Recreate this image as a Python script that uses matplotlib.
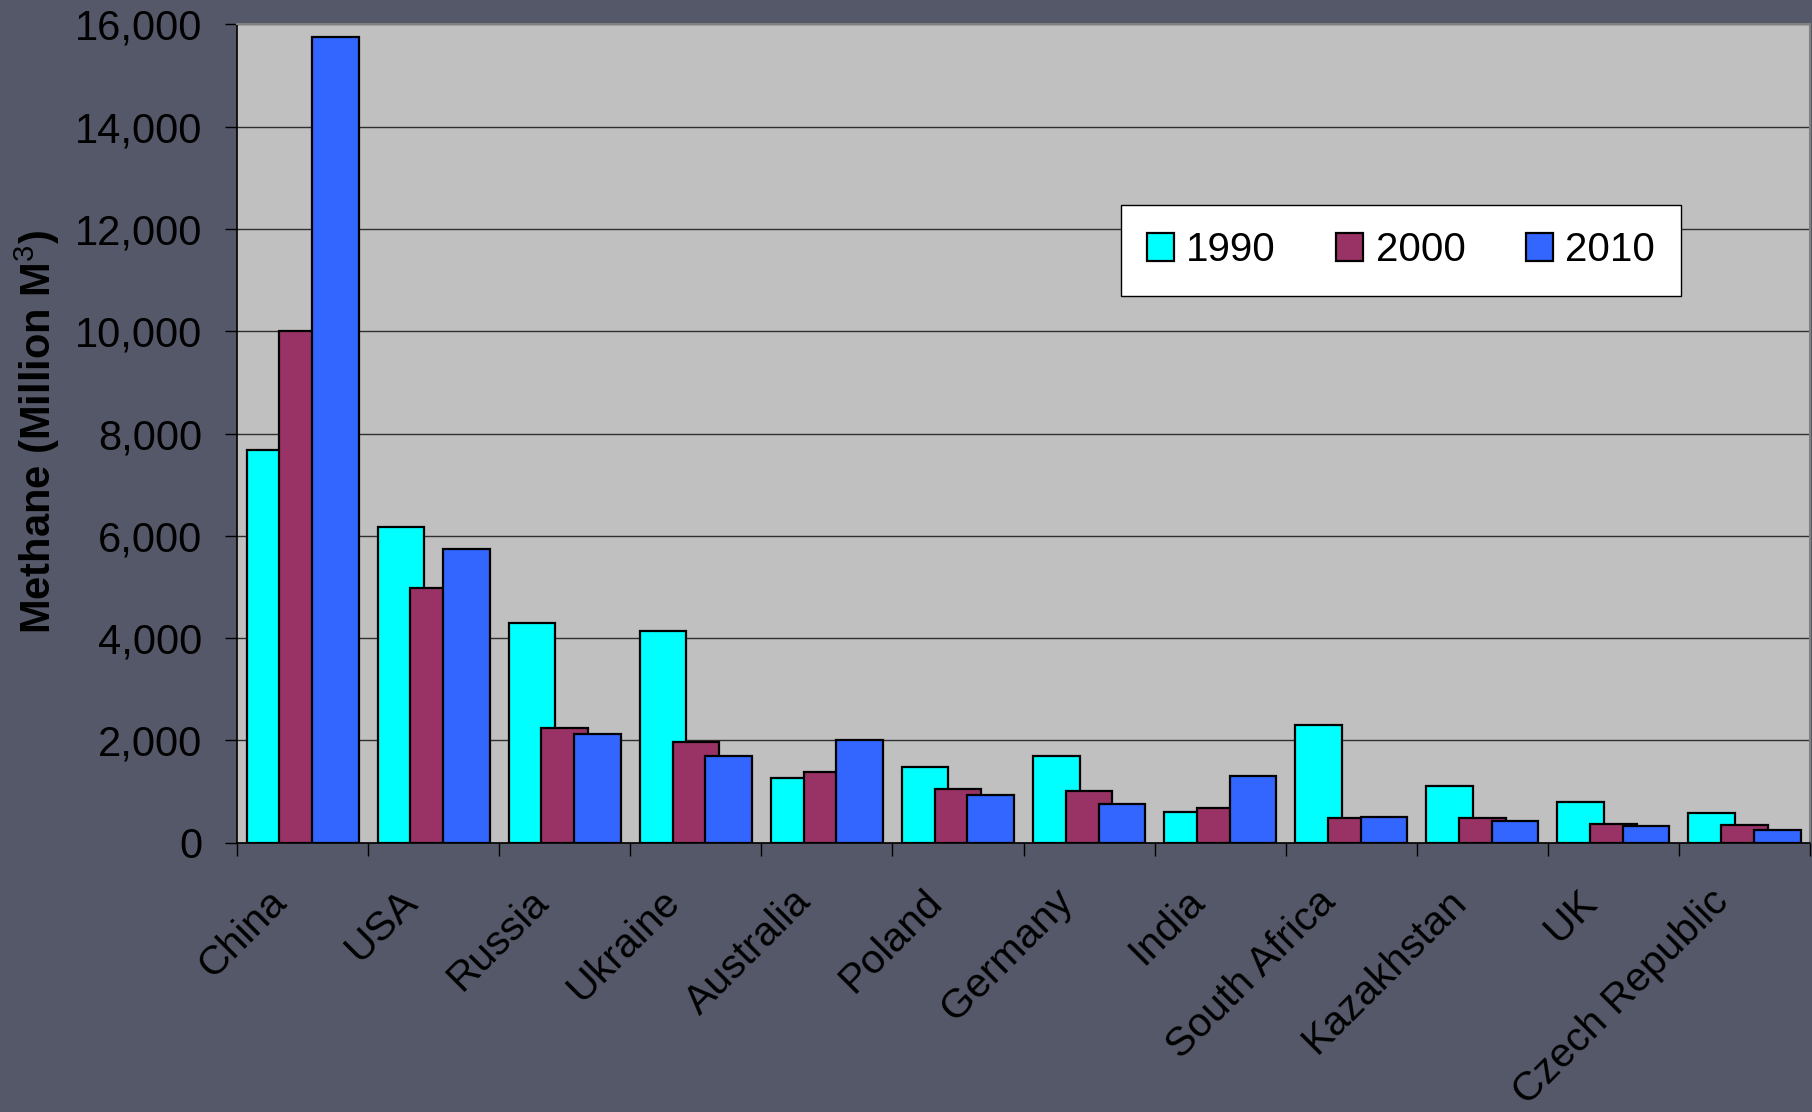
import matplotlib.pyplot as plt
import matplotlib.transforms as mtransforms
from matplotlib.ticker import FuncFormatter, MultipleLocator
import numpy as np

plt.rcParams['font.family'] = ['Liberation Sans', 'DejaVu Sans']
plt.rcParams['mathtext.fontset'] = 'custom'
plt.rcParams['mathtext.rm'] = 'Liberation Sans'
plt.rcParams['mathtext.bf'] = 'Liberation Sans:bold'

#%% data (million m3 of methane)
countries = ["China", "USA", "Russia", "Ukraine", "Australia", "Poland", "Germany",
             "India", "South Africa", "Kazakhstan", "UK", "Czech Republic"]
years = ["1990", "2000", "2010"]
y1990 = [7680, 6180, 4300, 4130, 1270, 1480, 1690, 590, 2310, 1100, 790, 580]
y2000 = [10000, 4980, 2240, 1970, 1380, 1040, 1020, 680, 490, 490, 360, 340]
y2010 = [15750, 5750, 2130, 1690, 2000, 940, 760, 1310, 510, 430, 330, 250]
colors = ["#00FFFF", "#993366", "#3366FF"]

#%% plot
fig = plt.figure(figsize=(18.12, 11.12), dpi=100, facecolor="#555869")
ax = fig.add_axes([0.1308, 0.2422, 0.8681, 0.7359])
ax.set_facecolor("#C0C0C0")

x = np.arange(len(countries))
offsets = [-0.25, 0.0, 0.25]
for k, (vals, yr) in enumerate(zip([y1990, y2000, y2010], years)):
    ax.bar(x + offsets[k], vals, width=0.355, color=colors[k], edgecolor="black",
           linewidth=1.6, label=yr, zorder=2 + k)

ax.set_xlim(-0.5, len(countries) - 0.5)
ax.set_ylim(0, 16000)
ax.yaxis.set_major_locator(MultipleLocator(2000))
ax.yaxis.set_major_formatter(FuncFormatter(lambda v, p: f"{int(v):,}"))
ax.grid(axis="y", color="#303030", linewidth=1.0, zorder=1)
ax.set_axisbelow(True)

ax.set_xticks(x)
ax.set_xticklabels(countries, rotation=45, ha="right", va="center", rotation_mode="anchor")
ax.set_xticks(np.arange(-0.5, len(countries)), minor=True)
ax.tick_params(axis="x", which="major", length=0, pad=38, labelsize=29.5)
ax.tick_params(axis="x", which="minor", length=9, width=1, color="black", direction="out")
ax.tick_params(axis="y", length=9, width=1, color="black", direction="out", pad=16, labelsize=30)
shift = mtransforms.ScaledTranslation(-22 / 100, 0, fig.dpi_scale_trans)
for lab in ax.get_xticklabels():
    lab.set_transform(lab.get_transform() + shift)

ax.spines["left"].set_color("black")
ax.spines["bottom"].set_color("black")
ax.spines["left"].set_linewidth(1.2)
ax.spines["bottom"].set_linewidth(1.2)
ax.spines["top"].set_color("#808080")
ax.spines["right"].set_color("#808080")
ax.spines["top"].set_linewidth(1.5)
ax.spines["right"].set_linewidth(1.5)

fig.text(0.0204, 0.6115, r"Methane (Million M$^{\mathrm{3}}$)", rotation=90, ha="center", va="center",
         fontsize=30, fontweight="bold")

leg = ax.legend(loc="upper left", bbox_to_anchor=(0.562, 0.779), borderaxespad=0, ncol=3,
                fontsize=29, frameon=True, fancybox=False, framealpha=1, edgecolor="black",
                handlelength=0.67, handleheight=0.7, handletextpad=0.3, columnspacing=1.5,
                borderpad=0.65)
leg.get_frame().set_linewidth(1.0)

fig.savefig("out.png", dpi=100, facecolor=fig.get_facecolor())
